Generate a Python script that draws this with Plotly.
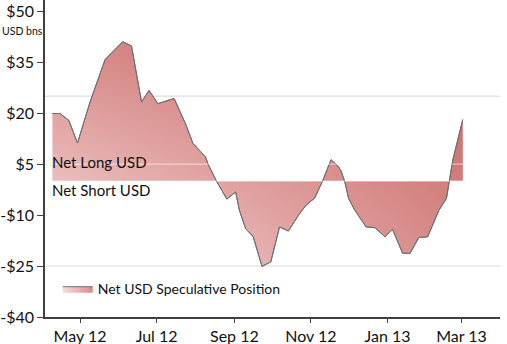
import plotly.graph_objects as go

# Weekly net USD speculative position (USD bns)
dates = ["2012-04-09", "2012-04-15", "2012-04-22", "2012-04-29", "2012-05-09", "2012-05-21",
         "2012-06-04", "2012-06-11", "2012-06-19", "2012-06-25", "2012-07-02", "2012-07-09",
         "2012-07-15", "2012-07-24", "2012-07-30", "2012-08-09", "2012-08-11", "2012-08-18",
         "2012-08-26", "2012-09-02", "2012-09-05", "2012-09-10", "2012-09-16", "2012-09-23",
         "2012-09-30", "2012-10-07", "2012-10-14", "2012-10-22", "2012-10-28", "2012-11-04",
         "2012-11-10", "2012-11-17", "2012-11-23", "2012-11-25", "2012-11-28", "2012-12-01",
         "2012-12-06", "2012-12-15", "2012-12-22", "2012-12-30", "2013-01-05", "2013-01-13",
         "2013-01-19", "2013-01-26", "2013-02-02", "2013-02-11", "2013-02-17", "2013-02-22",
         "2013-03-02"]
values = [19.9, 19.9, 17.9, 11.2, 23.3, 35.8, 41.0, 39.8, 23.3, 26.7, 22.8, 23.5,
          24.3, 16.9, 11.1, 7.1, 5.0, -0.2, -5.3, -3.2, -8.6, -14.0, -16.4, -25.1,
          -23.8, -13.5, -14.7, -10.1, -7.1, -5.0, -0.2, 6.3, 4.2, 3.0, -0.2, -5.1,
          -8.6, -13.5, -13.7, -16.4, -14.2, -21.2, -21.3, -16.6, -16.4, -8.6, -5.1, 6.1,
          18.1]

series_name = "Net USD Speculative Position"
y_tickvals = [50, 35, 20, 5, -10, -25, -40]
y_ticktext = ["$50", "$35", "$20", "$5", "-$10", "-$25", "-$40"]
grid_levels = [25, -25]
light_levels = [5, 0]
long_label = "Net Long USD"
short_label = "Net Short USD"
unit_label = "USD bns"

FONT = "Lato"
LINE = "rgb(112,112,112)"

fig = go.Figure()
# base fill: horizontal gradient
fig.add_trace(go.Scatter(
    x=dates, y=values, name=series_name, mode="lines", fill="tozeroy",
    line=dict(color=LINE, width=1),
    fillgradient=dict(type="horizontal",
                      colorscale=[[0, "rgb(247,222,222)"], [1, "rgb(214,137,135)"]]),
    showlegend=True, hoverinfo="x+y",
))
# overlay: vertical gradient to give a diagonal shading
fig.add_trace(go.Scatter(
    x=dates, y=values, mode="lines", fill="tozeroy",
    line=dict(color=LINE, width=1),
    fillgradient=dict(type="vertical",
                      colorscale=[[0, "rgba(192,80,77,0)"], [1, "rgba(192,80,77,0.6)"]]),
    showlegend=False, hoverinfo="skip",
))

shapes = []
for g in grid_levels:
    shapes.append(dict(type="line", xref="paper", x0=0, x1=1, yref="y", y0=g, y1=g,
                       line=dict(color="#d9d9d9", width=1), layer="below"))
for g in light_levels:
    shapes.append(dict(type="line", xref="paper", x0=0, x1=1, yref="y", y0=g, y1=g,
                       line=dict(color="rgba(255,255,255,0.5)", width=1.2), layer="above"))

L, R, T, B = 45, 7, 0, 27
W = 507 - L - R
fig.update_layout(
    width=507, height=344,
    margin=dict(l=L, r=R, t=T, b=B),
    paper_bgcolor="white", plot_bgcolor="white",
    font=dict(family=FONT, color="#111111"),
    shapes=shapes,
    showlegend=True,
    legend=dict(x=0.028, y=0.088, xanchor="left", yanchor="middle",
                bgcolor="rgba(0,0,0,0)", font=dict(size=14, family=FONT)),
    annotations=[
        dict(text=long_label, xref="paper", x=0.012, xanchor="left", yref="y", y=5.5,
             yanchor="middle", showarrow=False, font=dict(size=15, family=FONT, color="#111")),
        dict(text=short_label, xref="paper", x=0.012, xanchor="left", yref="y", y=-2.6,
             yanchor="middle", showarrow=False, font=dict(size=15, family=FONT, color="#111")),
        dict(text=unit_label, xref="paper", x=(1 - L) / W, xanchor="left", yref="y", y=44.2,
             yanchor="middle", showarrow=False, borderpad=0,
             font=dict(size=10.5, family=FONT, color="#111")),
    ],
)
fig.update_xaxes(
    type="date", range=["2012-04-03 02:00", "2013-03-31 16:00"],
    tick0="2012-05-01", dtick="M2", tickformat="%b %y",
    ticks="outside", ticklen=4, tickcolor="#404040",
    showline=True, linecolor="#404040", linewidth=1.5,
    showgrid=False, zeroline=False,
    tickfont=dict(size=16, family=FONT, color="#111"),
)
fig.update_yaxes(
    range=[-40, 53.3], tickmode="array", tickvals=y_tickvals, ticktext=y_ticktext,
    ticks="outside", ticklen=6, tickcolor="#404040",
    showline=True, linecolor="#404040", linewidth=1.5,
    showgrid=False, zeroline=False,
    tickfont=dict(size=16, family=FONT, color="#111"),
)

fig.write_html("out.html")
